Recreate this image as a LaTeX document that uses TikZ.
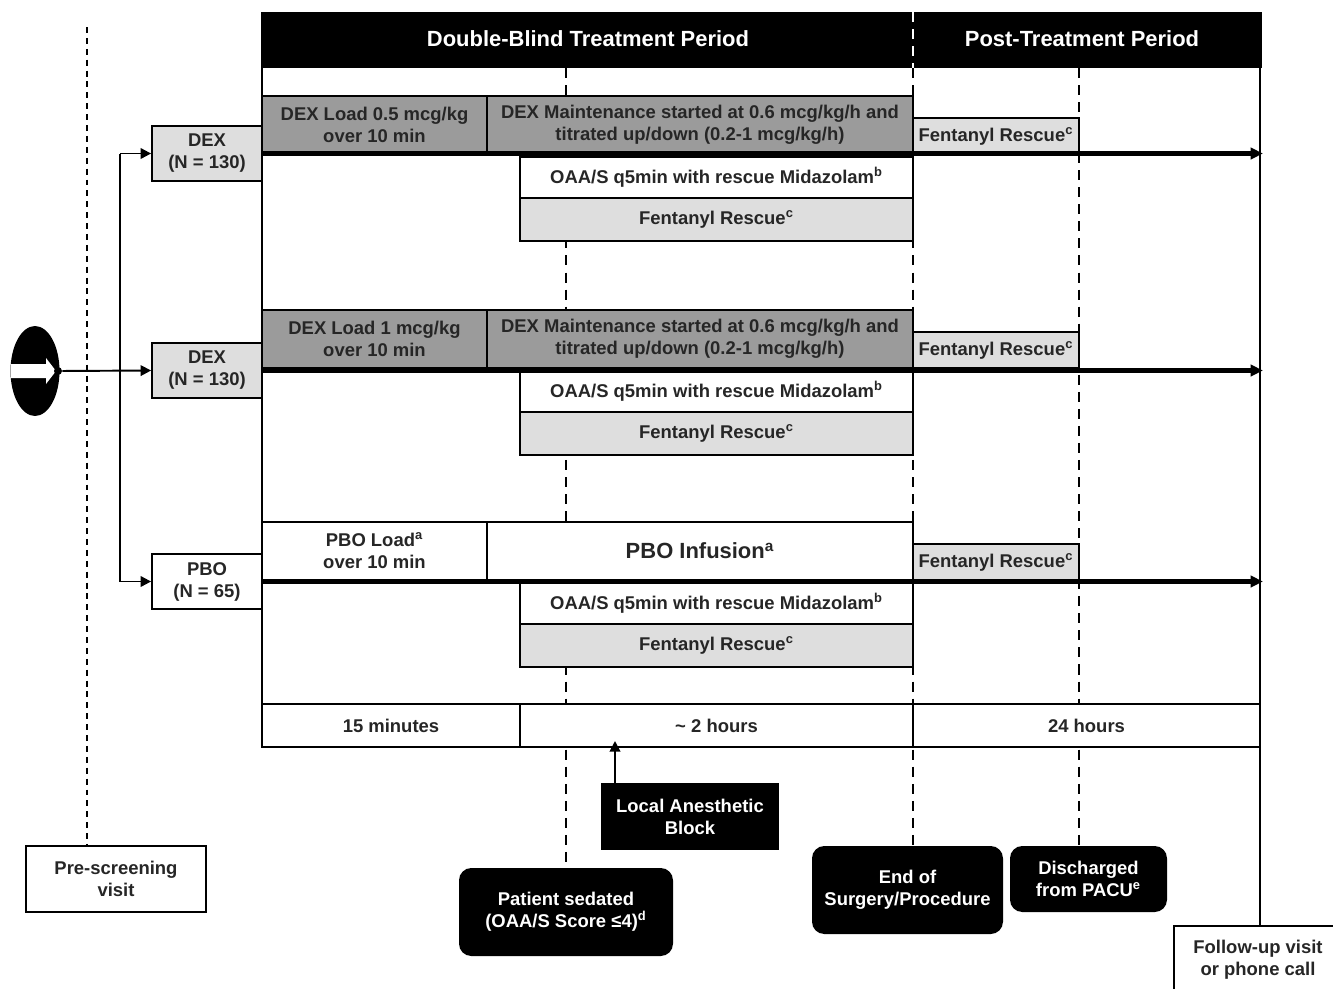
\documentclass[tikz,border=0pt]{standalone}
\usepackage{fontspec}
\setmainfont{Liberation Sans}
\usetikzlibrary{arrows.meta,fit,positioning,shapes.geometric}

\definecolor{dosegray}{HTML}{9B9B9B}
\definecolor{rescuegray}{HTML}{DEDEDE}

\tikzset{
  every node/.style={font=\fontsize{10.5}{12.5}\selectfont\bfseries, align=center, text=black!85},
  box/.style={draw, line width=1pt, fill=white, inner sep=0pt},
  dosebox/.style={box, fill=dosegray},
  rescuebox/.style={box, fill=rescuegray},
  armbox/.style={box, fill=rescuegray},
  eventbox/.style={fill=black, inner sep=0pt, rounded corners=7pt},
  blackbox/.style={fill=black, inner sep=0pt},
  bigtext/.style={font=\fontsize{12.5}{15}\selectfont\bfseries},
  intext/.style={label={center:{#1}}},
  whitetext/.style={label={[text=white]center:{#1}}},
  guide/.style={line width=1.3pt, dash pattern=on 5.7pt off 4pt},
  frame/.style={line width=1.4pt},
  feed/.style={line width=1.1pt, -{Triangle[length=6pt,width=6pt]}},
  armline/.style={line width=2.5pt, -{Triangle[length=7pt,width=6.5pt]}},
}

\begin{document}
\begin{tikzpicture}[x=0.02cm, y=-0.02cm]
  \useasboundingbox (0,0) rectangle (1333,988);

  % header bar
  \node[blackbox, fit={(262,12) (1262,68)}] (hdr) {};
  \node[bigtext, text=white] (dbtp) at (588,39) {Double-Blind Treatment Period};
  \node[bigtext, text=white] (ptp) at (1082,39) {Post-Treatment Period};
  \draw[guide, white] (913,12) -- (913,68);

  % bottom events
  \node[box, fit={(26,846) (206,912)}, intext={Pre-screening\\visit}] (pre) {};
  \node[eventbox, fit={(459,868) (673,956)}, whitetext={Patient sedated\\(OAA/S Score ≤4)\textsuperscript{d}}] (sed) {};
  \node[blackbox, fit={(601,783) (779,850)}, whitetext={Local Anesthetic\\Block}] (lab) {};
  \node[eventbox, fit={(812,846) (1003,934)}, whitetext={End of\\Surgery/Procedure}] (eos) {};
  \node[eventbox, fit={(1010,846) (1167,912)}, whitetext={Discharged\\from PACU\textsuperscript{e}}] (dis) {};
  \node[box, fit={(1174,926) (1346,996)}] (fu) {};
  \node (futext) at (1258,960) {Follow-up visit\\or phone call};

  % time marks
  \coordinate (t0) at (87,27);
  \coordinate (t1) at (566,68);
  \coordinate (t2) at (913,68);
  \coordinate (t3) at (1079,68);
  \draw[line width=1.1pt, dash pattern=on 3.4pt off 2.8pt] (t0) -- (t0 |- pre.north);
  \draw[guide] (t1) -- (t1 |- sed.north);
  \draw[guide] (t2) -- (t2 |- eos.north);
  \draw[guide] (t3) -- (t3 |- dis.north);
  \draw[frame] (262,12) -- (262,747);
  \draw[frame] (1260,12) -- (fu.north);

  % arms
  \node[armbox, fit={(152,126) (262,181)}, intext={DEX\\(N = 130)}] (dex1) {};
  \node[armbox, fit={(152,343) (262,398)}, intext={DEX\\(N = 130)}] (dex2) {};
  \node[box, fit={(152,554) (262,609)}, intext={PBO\\(N = 65)}] (pbo) {};

  \node[dosebox, fit={(262,96) (487,154)}, intext={DEX Load 0.5 mcg/kg\\over 10 min}] (load1) {};
  \node[dosebox, fit={(487,96) (913,154)}, intext={DEX Maintenance started at 0.6 mcg/kg/h and\\titrated up/down (0.2-1 mcg/kg/h)}] (maint1) {};
  \node[dosebox, fit={(262,310) (487,368)}, intext={DEX Load 1 mcg/kg\\over 10 min}] (load2) {};
  \node[dosebox, fit={(487,310) (913,368)}, intext={DEX Maintenance started at 0.6 mcg/kg/h and\\titrated up/down (0.2-1 mcg/kg/h)}] (maint2) {};
  \node[box, fit={(262,522) (487,580)}, intext={PBO Load\textsuperscript{a}\\over 10 min}] (load3) {};
  \node[box, fit={(487,522) (913,580)}, label={[bigtext]center:PBO Infusion\textsuperscript{a}}] (maint3) {};

  \foreach \dy/\g in {0/1,214/2,426/3} {
    \node[rescuebox, fit={(913,118+\dy) (1079,154+\dy)}, intext={Fentanyl Rescue\textsuperscript{c}}] (post\g) {};
    \node[box, fit={(520,157+\dy) (913,198+\dy)}, intext={OAA/S q5min with rescue Midazolam\textsuperscript{b}}] (oaa\g) {};
    \node[rescuebox, fit={(520,198+\dy) (913,241+\dy)}, intext={Fentanyl Rescue\textsuperscript{c}}] (fent\g) {};
  }

  \draw[armline] (dex1.east) -- ++(1000,0);
  \draw[armline] (dex2.east) -- ++(1000,0);
  \draw[armline] (pbo.east) -- ++(1000,0);

  % randomisation
  \node[ellipse, fill=black, inner sep=0pt, minimum width=0.98cm, minimum height=1.8cm] (rand) at (35,371) {};
  \fill[white] (11,364) -- (46,364) -- (46,358) -- (56,371) -- (46,384) -- (46,378) -- (11,378) -- cycle;
  \node[circle, fill=black, inner sep=0pt, minimum size=0.16cm] (dot) at (58,371) {};
  \coordinate (split) at (120,371);
  \draw[line width=1.1pt] (split |- dex1.west) -- (split |- pbo.west);
  \draw[feed] (dot) -- (dex2.west);
  \draw[feed] (split |- dex1.west) -- (dex1.west);
  \draw[feed] (split |- pbo.west) -- (pbo.west);

  % durations
  \node[box, fit={(262,704) (520,747)}, intext={15 minutes}] (d15) {};
  \node[box, fit={(520,704) (913,747)}, intext={\textasciitilde\ 2 hours}] (d2h) {};
  \node[box, fit={(913,704) (1260,747)}, intext={24 hours}] (d24) {};

  \coordinate (labtip) at (615,741);
  \draw[feed] (labtip |- lab.north) -- (labtip);

\end{tikzpicture}
\end{document}
